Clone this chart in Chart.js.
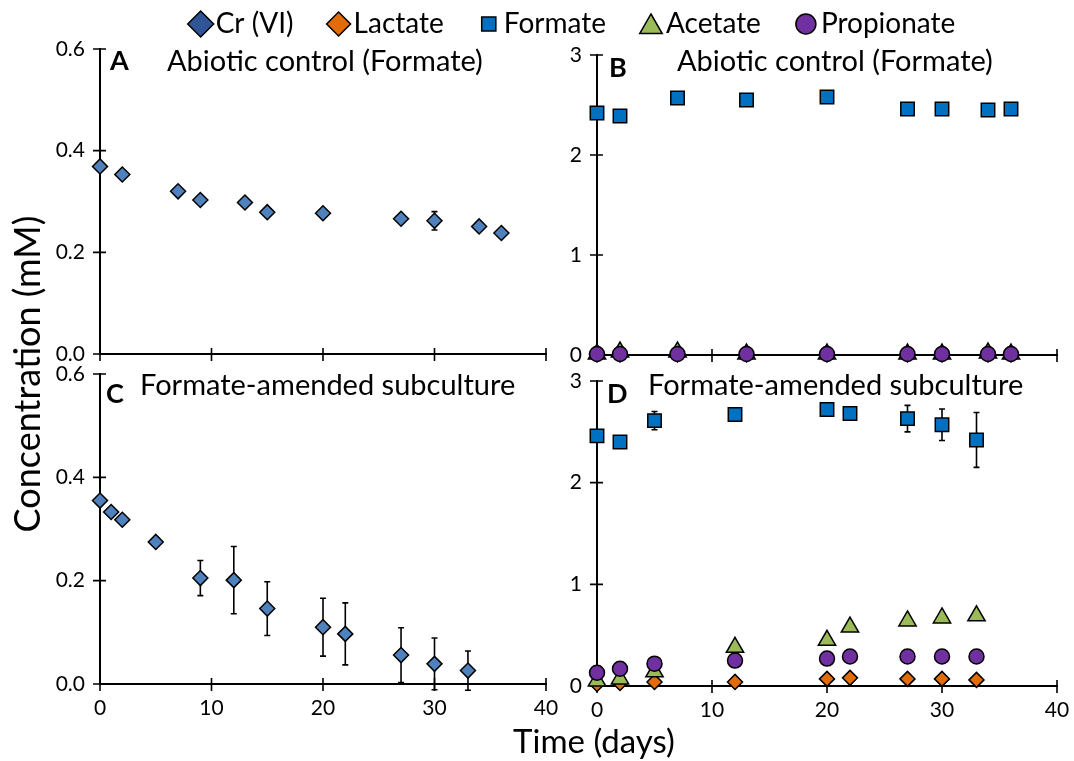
<!DOCTYPE html>
<html>
<head>
<meta charset="utf-8">
<script src="https://cdn.jsdelivr.net/npm/chart.js@4/dist/chart.umd.min.js"></script>
<style>
  body { margin: 0; background: #fff; }
  #wrap { position: relative; width: 1074px; height: 761px; overflow: hidden; }
  canvas { position: absolute; left: 0; top: 0; }
</style>
</head>
<body>
<div id="wrap">
  <canvas id="chartA" width="1074" height="761"></canvas>
  <canvas id="chartB" width="1074" height="761"></canvas>
  <canvas id="chartC" width="1074" height="761"></canvas>
  <canvas id="chartD" width="1074" height="761"></canvas>
  <canvas id="legendBox" width="1074" height="50"></canvas>
</div>
<script>
// ---- datos ----
const diasA = [0, 2, 7, 9, 13, 15, 20, 27, 30, 34, 36];
const crA = [0.369, 0.353, 0.320, 0.303, 0.298, 0.279, 0.277, 0.266, 0.262, 0.251, 0.238];
const crAErr = [0, 0, 0, 0, 0, 0, 0, 0, 0.018, 0, 0];

const diasB = [0, 2, 7, 13, 20, 27, 30, 34, 36];
const formiatoB = [2.42, 2.39, 2.57, 2.55, 2.58, 2.46, 2.46, 2.45, 2.46];
const lactatoB = [0.005, 0.005, 0.005, 0.005, 0.005, 0.005, 0.005, 0.005, 0.005];
const acetatoB = [0.01, 0.03, 0.03, 0.01, 0.01, 0.01, 0.01, 0.02, 0.01];
const propionatoB = [0.01, 0.01, 0.01, 0.01, 0.01, 0.01, 0.01, 0.01, 0.01];

const diasC = [0, 1, 2, 5, 9, 12, 15, 20, 22, 27, 30, 33];
const crC = [0.355, 0.333, 0.318, 0.275, 0.205, 0.201, 0.146, 0.110, 0.097, 0.056, 0.039, 0.026];
const crCErr = [0, 0, 0, 0, 0.034, 0.065, 0.052, 0.056, 0.06, 0.053, 0.05, 0.038];

const diasD = [0, 2, 5, 12, 20, 22, 27, 30, 33];
const formiatoD = [2.46, 2.40, 2.61, 2.67, 2.72, 2.68, 2.63, 2.57, 2.42];
const formiatoDErr = [0.01, 0.03, 0.09, 0.02, 0.02, 0.03, 0.13, 0.155, 0.27];
const lactatoD = [0.02, 0.03, 0.04, 0.04, 0.07, 0.08, 0.07, 0.07, 0.06];
const acetatoD = [0.05, 0.07, 0.14, 0.38, 0.45, 0.58, 0.64, 0.67, 0.69];
const propionatoD = [0.13, 0.17, 0.22, 0.25, 0.27, 0.29, 0.29, 0.29, 0.29];

const etiquetas = ["Cr (VI)", "Lactate", "Formate", "Acetate", "Propionate"];

const FUENTE = "Lato";
const colores = {
  cr: "#4f81bd",
  crLeyenda: "#2f5597",
  lactato: "#e36c0a",
  formiato: "#0070c0",
  acetato: "#9bbb59",
  propionato: "#7030a0",
};

const pares = (xs, ys) => xs.map((x, i) => ({ x: x, y: ys[i] }));

/* estilo de cada serie */
const serie = (label, xs, ys, estilo, err) => ({
  label: label,
  data: pares(xs, ys),
  err: err,
  showLine: false,
  clip: false,
  pointStyle: estilo.forma,
  pointRadius: estilo.radio,
  pointBackgroundColor: estilo.color,
  pointBorderColor: "#000",
  pointBorderWidth: 1.5,
  order: estilo.orden,
});

const estCr = { forma: "rectRot", radio: 7.5, color: colores.cr, orden: 1 };
const estLac = { forma: "rectRot", radio: 7.5, color: colores.lactato, orden: 3 };
const estFor = { forma: "rect", radio: 9.5, color: colores.formiato, orden: 4 };
const estAce = { forma: "triangle", radio: 10, color: colores.acetato, orden: 2 };
const estPro = { forma: "circle", radio: 7.5, color: colores.propionato, orden: 1 };

/* barras de error */
const barrasError = {
  id: "barrasError",
  beforeDatasetsDraw(chart) {
    const ctx = chart.ctx;
    const ejeY = chart.scales.y;
    chart.data.datasets.forEach((ds, i) => {
      if (!ds.err) return;
      const meta = chart.getDatasetMeta(i);
      meta.data.forEach((pt, j) => {
        const e = ds.err[j];
        if (!e) return;
        const v = ds.data[j].y;
        const arriba = ejeY.getPixelForValue(v + e);
        const abajo = ejeY.getPixelForValue(v - e);
        ctx.save();
        ctx.strokeStyle = "#000";
        ctx.lineWidth = 1.6;
        ctx.beginPath();
        ctx.moveTo(pt.x, arriba);
        ctx.lineTo(pt.x, abajo);
        ctx.moveTo(pt.x - 3, arriba);
        ctx.lineTo(pt.x + 3, arriba);
        ctx.moveTo(pt.x - 3, abajo);
        ctx.lineTo(pt.x + 3, abajo);
        ctx.stroke();
        ctx.restore();
      });
    });
  },
};

/* marcas de los ejes que cruzan la linea */
const marcasCruz = {
  id: "marcasCruz",
  beforeDatasetsDraw(chart) {
    const ctx = chart.ctx;
    const area = chart.chartArea;
    const ex = chart.scales.x;
    const ey = chart.scales.y;
    ctx.save();
    ctx.strokeStyle = "#000";
    ctx.lineWidth = 1.6;
    ctx.beginPath();
    ex.ticks.forEach((t) => {
      const px = ex.getPixelForValue(t.value);
      ctx.moveTo(px, area.bottom - 6);
      ctx.lineTo(px, area.bottom + 7);
    });
    ey.ticks.forEach((t) => {
      const py = ey.getPixelForValue(t.value);
      ctx.moveTo(area.left - 7, py);
      ctx.lineTo(area.left + 6, py);
    });
    ctx.stroke();
    ctx.restore();
  },
};

/* letra del panel y subtitulo */
const textoPanel = {
  id: "textoPanel",
  afterDraw(chart, args, opts) {
    if (!opts || !opts.texto) return;
    const ctx = chart.ctx;
    ctx.save();
    ctx.fillStyle = "#000";
    ctx.textBaseline = "alphabetic";
    ctx.textAlign = "left";
    ctx.font = "bold 27px " + FUENTE;
    ctx.fillText(opts.letra, opts.lx, opts.ly);
    ctx.font = "29px " + FUENTE;
    ctx.fillText(opts.texto, opts.tx, opts.ty);
    if (opts.titulos) {
      ctx.font = "33px " + FUENTE;
      ctx.textAlign = "center";
      ctx.textBaseline = "middle";
      ctx.fillText("Time (days)", 594, 742);
      ctx.font = "36px " + FUENTE;
      ctx.translate(28, 374);
      ctx.rotate(-Math.PI / 2);
      ctx.fillText("Concentration (mM)", 0, 0);
    }
    ctx.restore();
  },
};

const ANCHO_Y = 70;
const ALTO_X = 45;

const crearPanel = (id, area, yMax, verX, datasets, textos) => {
  return new Chart(document.getElementById(id), {
    type: "scatter",
    data: { datasets: datasets },
    options: {
      responsive: false,
      animation: false,
      events: [],
      layout: {
        padding: {
          left: area.left - ANCHO_Y,
          right: 1074 - area.right,
          top: area.top,
          bottom: 761 - area.bottom - ALTO_X,
        },
      },
      scales: {
        x: {
          type: "linear",
          min: 0,
          max: 40,
          afterFit: (s) => {
            s.height = ALTO_X;
            s.paddingLeft = 0;
            s.paddingRight = 0;
          },
          border: { display: true, color: "#000", width: 2 },
          grid: { display: false, drawTicks: false },
          ticks: {
            stepSize: 10,
            display: verX,
            padding: 12,
            color: "#000",
            font: { family: FUENTE, size: 21 },
          },
        },
        y: {
          min: 0,
          max: yMax,
          afterFit: (s) => {
            s.width = ANCHO_Y;
            s.paddingTop = 0;
            s.paddingBottom = 0;
          },
          border: { display: true, color: "#000", width: 2 },
          grid: { display: false, drawTicks: false },
          ticks: {
            stepSize: yMax < 1 ? 0.2 : 1,
            padding: 15,
            color: "#000",
            font: { family: FUENTE, size: 21 },
            callback: (v) => (yMax < 1 ? v.toFixed(1) : v),
          },
        },
      },
      plugins: {
        legend: { display: false },
        tooltip: { enabled: false },
        textoPanel: textos,
      },
    },
    plugins: [marcasCruz, barrasError, textoPanel],
  });
};

const chartA = crearPanel("chartA", { left: 100, right: 546, top: 49, bottom: 354 }, 0.6, false,
  [serie(etiquetas[0], diasA, crA, estCr, crAErr)],
  { letra: "A", lx: 110, ly: 70, texto: "Abiotic control (Formate)", tx: 167, ty: 71, titulos: true });

const chartB = crearPanel("chartB", { left: 597, right: 1057, top: 55, bottom: 355 }, 3, false,
  [
    serie(etiquetas[1], diasB, lactatoB, estLac),
    serie(etiquetas[2], diasB, formiatoB, estFor),
    serie(etiquetas[3], diasB, acetatoB, estAce),
    serie(etiquetas[4], diasB, propionatoB, estPro),
  ],
  { letra: "B", lx: 609, ly: 77, texto: "Abiotic control (Formate)", tx: 677, ty: 71 });

const chartC = crearPanel("chartC", { left: 100, right: 546, top: 374, bottom: 684 }, 0.6, true,
  [serie(etiquetas[0], diasC, crC, estCr, crCErr)],
  { letra: "C", lx: 106, ly: 403, texto: "Formate-amended subculture", tx: 140, ty: 395 });

const chartD = crearPanel("chartD", { left: 597, right: 1057, top: 381, bottom: 686 }, 3, true,
  [
    serie(etiquetas[1], diasD, lactatoD, estLac),
    serie(etiquetas[2], diasD, formiatoD, estFor, formiatoDErr),
    serie(etiquetas[3], diasD, acetatoD, estAce),
    serie(etiquetas[4], diasD, propionatoD, estPro),
  ],
  { letra: "D", lx: 607, ly: 403, texto: "Formate-amended subculture", tx: 648, ty: 395 });

/* leyenda comun arriba (dibujada a mano para controlar separaciones) */
const estilosLeyenda = [
  { forma: "rectRot", radio: 13, color: colores.crLeyenda },
  { forma: "rectRot", radio: 12, color: colores.lactato },
  { forma: "rect", radio: 10, color: colores.formiato },
  { forma: "triangle", radio: 13, color: colores.acetato },
  { forma: "circle", radio: 10, color: colores.propionato },
];

const leyendaComun = {
  id: "leyendaComun",
  afterDraw(chart) {
    const ctx = chart.ctx;
    const centroX = 575;
    const centroY = 24;
    const aTexto = 15;   // centro del simbolo -> inicio del texto
    const aSimbolo = 45; // fin del texto -> centro del siguiente simbolo
    ctx.save();
    ctx.font = "28px " + FUENTE;
    const anchos = etiquetas.map((t) => ctx.measureText(t).width);
    let total = 0;
    anchos.forEach((w, i) => { total += aTexto + w + (i < anchos.length - 1 ? aSimbolo : 0); });
    let x = centroX - total / 2 + 3;
    etiquetas.forEach((t, i) => {
      const est = estilosLeyenda[i];
      ctx.fillStyle = est.color;
      ctx.strokeStyle = "#000";
      ctx.lineWidth = 1.5;
      const yMarca = est.forma === "triangle" ? centroY + 3 : centroY;
      Chart.helpers.drawPoint(ctx, { pointStyle: est.forma, radius: est.radio, rotation: 0, borderWidth: 1.5 }, x, yMarca);
      ctx.fillStyle = "#000";
      ctx.textAlign = "left";
      ctx.textBaseline = "middle";
      ctx.fillText(t, x + aTexto, centroY);
      x += aTexto + anchos[i] + aSimbolo;
    });
    ctx.restore();
  },
};

const leyenda = new Chart(document.getElementById("legendBox"), {
  type: "scatter",
  data: { datasets: [] },
  options: {
    responsive: false,
    animation: false,
    events: [],
    scales: { x: { display: false }, y: { display: false } },
    plugins: { legend: { display: false }, tooltip: { enabled: false } },
  },
  plugins: [leyendaComun],
});
</script>
</body>
</html>
